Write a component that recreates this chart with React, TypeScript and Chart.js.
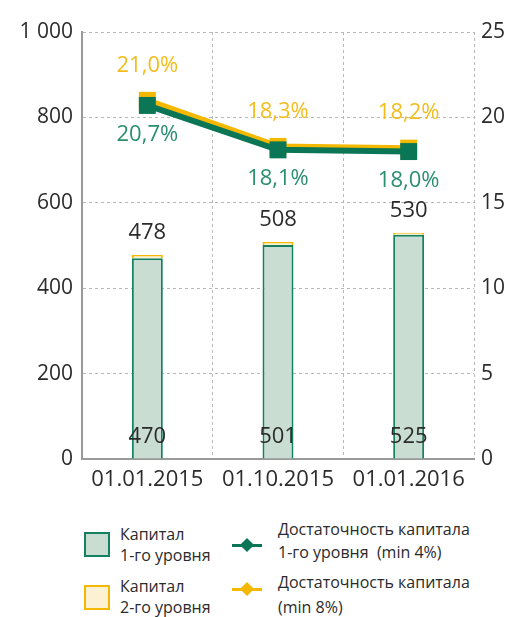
import React, { useEffect, useRef } from "react";
import { Chart, registerables } from "chart.js";

Chart.register(...registerables);

const categories = ["01.01.2015", "01.10.2015", "01.01.2016"];
const tier1Capital = [470, 501, 525];
const tier2Capital = [8, 7, 5];
const tier1Ratio = [20.7, 18.1, 18.0];
const totalRatio = [21.0, 18.3, 18.2];
const leftTicks = [0, 200, 400, 600, 800, 1000];
const rightTicks = [0, 5, 10, 15, 20, 25];

const GREEN = "#0a7655";
const GREEN_BORDER = "#13805f";
const GREEN_FILL = "#c9ddd3";
const GREEN_TEXT = "#2a8f6f";
const YELLOW = "#f4b800";
const YELLOW_FILL = "#fdf1d4";
const YELLOW_TEXT = "#f3bd1e";
const TEXT = "#2b2b2b";
const FONT = '"Open Sans", "Noto Sans", sans-serif';
const WEIGHT = "normal";

const fmtPct = (v: number) => v.toFixed(1).replace(".", ",") + "%";
const fmtThousands = (v: number) =>
  String(v).replace(/\B(?=(\d{3})+(?!\d))/g, " ");

const labelPlugin = {
  id: "valueLabels",
  afterDatasetsDraw(chart: any) {
    const { ctx } = chart;
    const xs = chart.scales.x;
    const ys = chart.scales.y;
    const y1 = chart.scales.y1;
    ctx.save();
    ctx.font = `${WEIGHT} 22px ${FONT}`;
    ctx.textAlign = "center";
    ctx.textBaseline = "middle";
    categories.forEach((_, i) => {
      const cx = xs.getPixelForValue(i);
      const total = tier1Capital[i] + tier2Capital[i];
      ctx.fillStyle = TEXT;
      ctx.fillText(String(total), cx, ys.getPixelForValue(total) - 22);
      ctx.fillText(String(tier1Capital[i]), cx, ys.getPixelForValue(0) - 22);
      ctx.fillStyle = YELLOW_TEXT;
      ctx.fillText(fmtPct(totalRatio[i]), cx, y1.getPixelForValue(totalRatio[i]) - 35);
      ctx.fillStyle = GREEN_TEXT;
      ctx.fillText(fmtPct(tier1Ratio[i]), cx, y1.getPixelForValue(tier1Ratio[i]) + 29);
    });
    ctx.restore();
  },
};

function ChartCanvas() {
  const ref = useRef<HTMLCanvasElement>(null);
  useEffect(() => {
    if (!ref.current) return;
    const chart = new Chart(ref.current, {
      type: "bar",
      data: {
        labels: categories,
        datasets: [
          {
            type: "line",
            label: "Достаточность капитала 1-го уровня (min 4%)",
            data: tier1Ratio,
            yAxisID: "y1",
            borderColor: GREEN,
            backgroundColor: GREEN,
            borderWidth: 6,
            pointStyle: "rect",
            pointRadius: 12,
            pointBorderWidth: 0,
            pointBackgroundColor: GREEN,
            order: 0,
          } as any,
          {
            type: "line",
            label: "Достаточность капитала (min 8%)",
            data: totalRatio,
            yAxisID: "y1",
            borderColor: YELLOW,
            backgroundColor: YELLOW,
            borderWidth: 6,
            pointStyle: "rect",
            pointRadius: 12,
            pointBorderWidth: 0,
            pointBackgroundColor: YELLOW,
            order: 1,
          } as any,
          {
            type: "bar",
            label: "Капитал 1-го уровня",
            data: tier1Capital,
            yAxisID: "y",
            backgroundColor: GREEN_FILL,
            borderColor: GREEN_BORDER,
            borderWidth: 2,
            barPercentage: 0.237,
            categoryPercentage: 1,
            order: 2,
          },
          {
            type: "bar",
            label: "Капитал 2-го уровня",
            data: tier2Capital,
            yAxisID: "y",
            backgroundColor: YELLOW_FILL,
            borderColor: YELLOW,
            borderWidth: 2,
            barPercentage: 0.237,
            categoryPercentage: 1,
            order: 3,
          },
        ],
      },
      options: {
        responsive: false,
        animation: false,
        devicePixelRatio: 1,
        layout: { padding: { top: 32, left: 0, right: 0, bottom: 0 } },
        plugins: { legend: { display: false }, tooltip: { enabled: false } },
        scales: {
          x: {
            stacked: true,
            offset: true,
            grid: { offset: true, color: "#b8b8b8", lineWidth: 1, drawTicks: false },
            border: { display: true, color: "#999999", width: 2, dash: [3, 3] },
            ticks: { color: TEXT, font: { family: FONT, size: 22, weight: WEIGHT as any }, padding: 8 },
            afterFit: (s: any) => { s.height = 41; },
          },
          y: {
            stacked: true,
            position: "left",
            min: 0,
            max: 1000,
            afterBuildTicks: (s: any) => { s.ticks = leftTicks.map((v) => ({ value: v })); },
            grid: { color: "#b8b8b8", lineWidth: 1, drawTicks: false },
            border: { display: true, color: "#999999", width: 2, dash: [3, 3] },
            ticks: {
              color: TEXT,
              font: { family: FONT, size: 21, weight: WEIGHT as any },
              padding: 9,
              callback: (v: any) => fmtThousands(Number(v)),
            },
            afterFit: (s: any) => { s.width = 82; },
          },
          y1: {
            position: "right",
            min: 0,
            max: 25,
            afterBuildTicks: (s: any) => { s.ticks = rightTicks.map((v) => ({ value: v })); },
            grid: { display: false, drawTicks: false },
            border: { display: false },
            ticks: {
              color: TEXT,
              font: { family: FONT, size: 21, weight: WEIGHT as any },
              padding: 7,
            },
            afterFit: (s: any) => { s.width = 37; },
          },
        },
      },
      plugins: [labelPlugin],
    });
    return () => chart.destroy();
  }, []);
  return <canvas ref={ref} width={511} height={500} style={{ position: "absolute", left: 0, top: 0, width: 511, height: 500 }} />;
}

const legendText: React.CSSProperties = {
  position: "absolute",
  fontFamily: FONT,
  fontSize: 16,
  color: TEXT,
  whiteSpace: "nowrap",
};

function LineMarker({ color, top }: { color: string; top: number }) {
  return (
    <div style={{ position: "absolute", left: 232, top: top - 1.5, width: 30, height: 3, background: color }}>
      <div style={{ position: "absolute", left: 10, top: -4, width: 10, height: 10, background: color, transform: "rotate(45deg)" }} />
    </div>
  );
}

export default function App() {
  return (
    <div style={{ position: "absolute", left: 0, top: 0, width: 511, height: 617, background: "#fff", overflow: "hidden" }}>
      <ChartCanvas />
      <div style={{ position: "absolute", left: 84, top: 532, width: 22, height: 21, border: `2px solid ${GREEN_BORDER}`, background: GREEN_FILL }} />
      <div style={{ ...legendText, left: 120, top: 524, lineHeight: "21px" }}>Капитал<br />1-го уровня</div>
      <div style={{ position: "absolute", left: 84, top: 585, width: 22, height: 21, border: `2px solid ${YELLOW}`, background: YELLOW_FILL }} />
      <div style={{ ...legendText, left: 120, top: 576, lineHeight: "21px" }}>Капитал<br />2-го уровня</div>
      <LineMarker color={GREEN} top={545} />
      <div style={{ ...legendText, left: 278, top: 518, lineHeight: "23px" }}>Достаточность капитала<br />1-го уровня&nbsp;&nbsp;(min 4%)</div>
      <LineMarker color={YELLOW} top={589} />
      <div style={{ ...legendText, left: 278, top: 570, lineHeight: "25px" }}>Достаточность капитала<br />(min 8%)</div>
    </div>
  );
}
